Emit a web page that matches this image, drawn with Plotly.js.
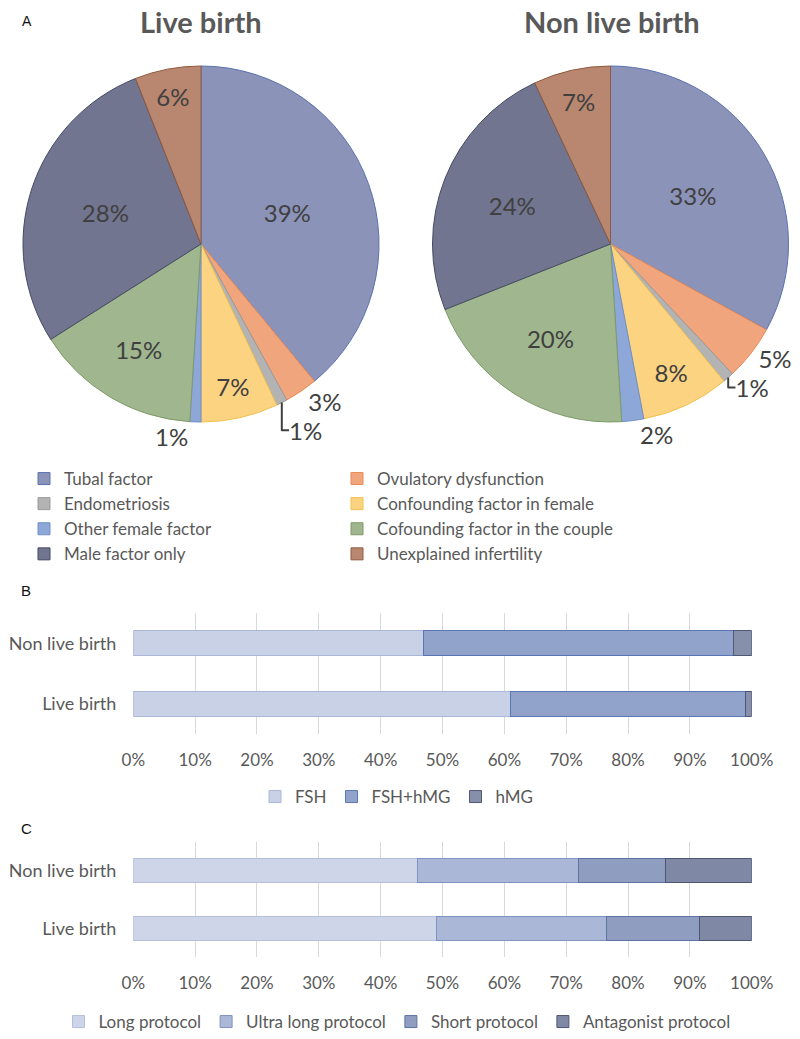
<!DOCTYPE html>
<html>
<head>
<meta charset="utf-8">
<script src="https://cdn.plot.ly/plotly-3.0.1.min.js"></script>
<style>html,body{margin:0;padding:0;background:#fff;}#chart{width:800px;height:1039px;}</style>
</head>
<body>
<div id="chart"></div>
<script>
// ---- data ----
const pieLabels = ['Tubal factor', 'Ovulatory dysfunction', 'Endometriosis', 'Confounding factor in female',
  'Other female factor', 'Cofounding factor in the couple', 'Male factor only', 'Unexplained infertility'];
const liveBirthPct = [39, 3, 1, 7, 1, 15, 28, 6];
const nonLiveBirthPct = [33, 5, 1, 8, 2, 20, 24, 7];
const pieTitles = ['Live birth', 'Non live birth'];

const groupLabels = ['Live birth', 'Non live birth'];
const gonadoSeries = ['FSH', 'FSH+hMG', 'hMG'];
const fshVals = [61, 47];
const fshHmgVals = [38, 50];
const hmgVals = [1, 3];

const protocolSeries = ['Long protocol', 'Ultra long protocol', 'Short protocol', 'Antagonist protocol'];
const longVals = [49, 46];
const ultraLongVals = [27.5, 26];
const shortVals = [15, 14];
const antagonistVals = [8.5, 14];

const xTickVals = [0, 10, 20, 30, 40, 50, 60, 70, 80, 90, 100];

// ---- styles ----
const FONT = 'Lato, "Open Sans", sans-serif';
const GREY = '#595959';
const pieColors = ['#8b93b8', '#f0a57c', '#b3b3b3', '#fcd381', '#8da8d8', '#9fb68e', '#71758f', '#b9876f'];
const pieLines = ['#5b72b0', '#e88a55', '#9a9a9a', '#f2c14e', '#6f8fc8', '#7d9a68', '#454a62', '#8f5a40'];
const liveTextPos = ['inside', 'outside', 'outside', 'inside', 'outside', 'inside', 'inside', 'inside'];
const nonLiveTextPos = ['inside', 'outside', 'outside', 'inside', 'outside', 'inside', 'inside', 'inside'];

const W = 800, H = 1039, ML = 10, MR = 5;
const GW = W - ML - MR;
const X = px => (px - ML) / GW;
const Y = py => 1 - py / H;

function pieTrace(values, textpos, dom) {
  return {
    type: 'pie', labels: pieLabels, values: values, sort: false, direction: 'clockwise', rotation: 0,
    domain: dom,
    marker: {colors: pieColors, line: {color: pieLines, width: 1}},
    textinfo: 'percent', textposition: textpos, insidetextorientation: 'horizontal',
    textfont: {family: FONT, size: 24, color: '#404040'},
    outsidetextfont: {family: FONT, size: 24, color: '#404040'},
    hoverinfo: 'label+percent', legend: 'legend'
  };
}

const traces = [
  pieTrace(liveBirthPct, liveTextPos, {x: [X(23), X(379)], y: [Y(422), Y(66)]}),
  pieTrace(nonLiveBirthPct, nonLiveTextPos, {x: [X(432.5), X(788.5)], y: [Y(422), Y(66)]})
];

const gonadoVals = [fshVals, fshHmgVals, hmgVals];
const gonadoColors = ['#c9d1e6', '#91a3ca', '#8690ab'];
const gonadoLines = ['#a9b6d6', '#5877b3', '#4f5876'];
gonadoSeries.forEach((name, i) => {
  traces.push({
    type: 'bar', orientation: 'h', name: name, y: groupLabels, x: gonadoVals[i],
    xaxis: 'x', yaxis: 'y', legend: 'legend2',
    marker: {color: gonadoColors[i], line: {color: gonadoLines[i], width: 1}}
  });
});

const protocolVals = [longVals, ultraLongVals, shortVals, antagonistVals];
const protocolColors = ['#ced5e9', '#aab7d7', '#8f9dc1', '#7f89a6'];
const protocolLines = ['#b3bfdc', '#7f93c2', '#5e72a3', '#4f5672'];
protocolSeries.forEach((name, i) => {
  traces.push({
    type: 'bar', orientation: 'h', name: name, y: groupLabels, x: protocolVals[i],
    xaxis: 'x2', yaxis: 'y2', legend: 'legend3',
    marker: {color: protocolColors[i], line: {color: protocolLines[i], width: 1}}
  });
});

const xAxisBase = {
  range: [0, 100], tickvals: xTickVals, ticktext: xTickVals.map(v => v + '%'),
  showgrid: true, gridcolor: '#d9d9d9', gridwidth: 1, zeroline: false, showline: false,
  ticks: '', ticklabelstandoff: 14,
  tickfont: {family: FONT, size: 17, color: GREY}, fixedrange: true
};
const yAxisBase = {
  type: 'category', categoryorder: 'array', categoryarray: groupLabels,
  showgrid: false, zeroline: false, showline: false, ticks: '', ticklabelstandoff: 16,
  tickfont: {family: FONT, size: 18, color: GREY}, fixedrange: true
};

const legendFont = {family: FONT, size: 17, color: GREY};

const layout = {
  width: W, height: H,
  margin: {l: ML, r: MR, t: 0, b: 0, autoexpand: false},
  paper_bgcolor: '#ffffff', plot_bgcolor: 'rgba(0,0,0,0)',
  barmode: 'stack', bargap: 0.59,
  xaxis: Object.assign({}, xAxisBase, {domain: [X(133.3), X(751.7)], anchor: 'y'}),
  yaxis: Object.assign({}, yAxisBase, {domain: [Y(734), Y(613)], anchor: 'x'}),
  xaxis2: Object.assign({}, xAxisBase, {domain: [X(133.3), X(751.7)], anchor: 'y2'}),
  yaxis2: Object.assign({}, yAxisBase, {domain: [Y(957), Y(842)], anchor: 'x2'}),
  legend: {
    orientation: 'h', x: X(24), y: Y(461), xanchor: 'left', yanchor: 'top',
    entrywidth: 268, entrywidthmode: 'pixels', font: legendFont, traceorder: 'normal',
    bgcolor: 'rgba(0,0,0,0)'
  },
  legend2: {
    orientation: 'h', x: X(397), y: Y(797), xanchor: 'center', yanchor: 'middle',
    font: legendFont, traceorder: 'normal', bgcolor: 'rgba(0,0,0,0)'
  },
  legend3: {
    orientation: 'h', x: X(397), y: Y(1022), xanchor: 'center', yanchor: 'middle',
    font: legendFont, traceorder: 'normal', bgcolor: 'rgba(0,0,0,0)'
  },
  annotations: [
    {text: pieTitles[0], xref: 'paper', yref: 'paper', x: X(201), y: Y(21), xanchor: 'center', yanchor: 'middle',
     showarrow: false, font: {family: FONT, size: 29, color: GREY, weight: 'bold'}},
    {text: pieTitles[1], xref: 'paper', yref: 'paper', x: X(612), y: Y(21), xanchor: 'center', yanchor: 'middle',
     showarrow: false, font: {family: FONT, size: 29, color: GREY, weight: 'bold'}},
    {text: 'A', xref: 'paper', yref: 'paper', x: X(27), y: Y(21), xanchor: 'center', yanchor: 'middle',
     showarrow: false, font: {family: 'Liberation Sans, Arial, sans-serif', size: 14, color: '#111111'}},
    {text: 'B', xref: 'paper', yref: 'paper', x: X(26), y: Y(590), xanchor: 'center', yanchor: 'middle',
     showarrow: false, font: {family: 'Liberation Sans, Arial, sans-serif', size: 15, color: '#111111'}},
    {text: 'C', xref: 'paper', yref: 'paper', x: X(26), y: Y(828), xanchor: 'center', yanchor: 'middle',
     showarrow: false, font: {family: 'Liberation Sans, Arial, sans-serif', size: 15, color: '#111111'}}
  ]
};

Plotly.newPlot('chart', traces, layout, {displayModeBar: false, responsive: false});
</script>
</body>
</html>
